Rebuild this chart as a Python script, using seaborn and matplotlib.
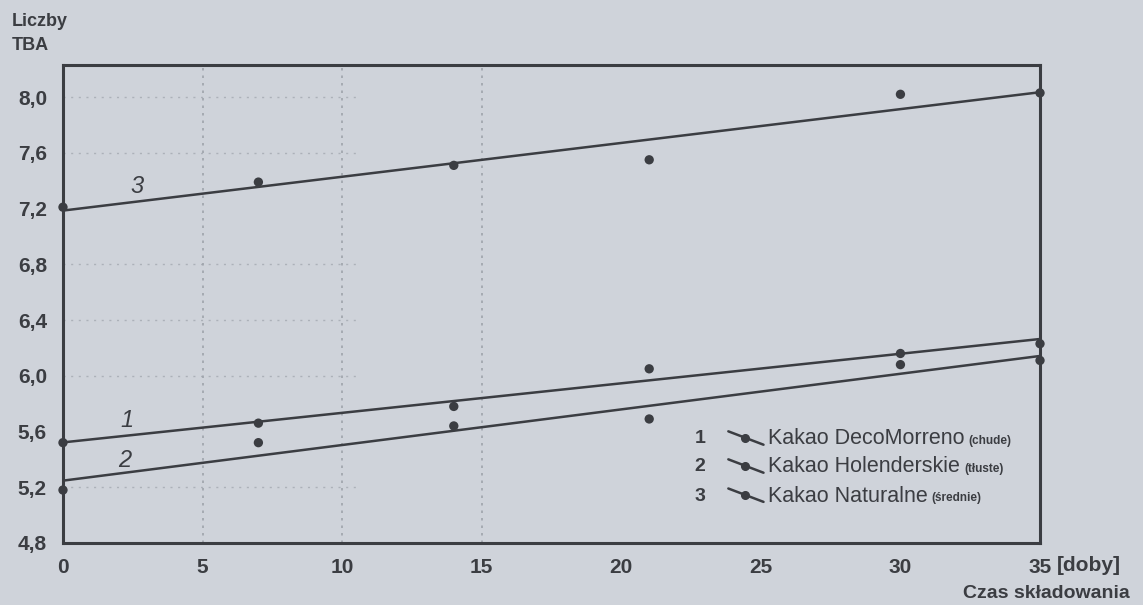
import matplotlib
matplotlib.use("Agg")
import matplotlib.pyplot as plt
import numpy as np
import pandas as pd
import seaborn as sns

# Storage time (days) and TBA values for the three cocoa powders
days = [0, 7, 14, 21, 30, 35]
tba_decomorreno = [5.52, 5.66, 5.78, 6.05, 6.16, 6.23]
tba_holenderskie = [5.18, 5.52, 5.64, 5.69, 6.08, 6.11]
tba_naturalne = [7.21, 7.39, 7.51, 7.55, 8.02, 8.03]

series_numbers = ["1", "2", "3"]
series_names = ["Kakao DecoMorreno", "Kakao Holenderskie", "Kakao Naturalne"]
series_notes = ["(chude)", "(tłuste)", "(średnie)"]

x_ticks = [0, 5, 10, 15, 20, 25, 30, 35]
y_ticks = [4.8, 5.2, 5.6, 6.0, 6.4, 6.8, 7.2, 7.6, 8.0]

df = pd.DataFrame({
    "doby": days * 3,
    "tba": tba_decomorreno + tba_holenderskie + tba_naturalne,
    "seria": [n for n in series_numbers for _ in days],
})

sns.set_theme(style="white")
plt.rcParams["font.family"] = ["Liberation Sans", "DejaVu Sans"]

PAPER = "#cfd3da"
INK = "#3b3d42"
FAINT = "#9ea3ab"

fig = plt.figure(figsize=(11.43, 6.05), dpi=100, facecolor=PAPER)
ax = fig.add_axes([0.0551, 0.1025, 0.8548, 0.790])
ax.set_facecolor(PAPER)

# faint dotted guide lines
for xv in [5, 10, 15]:
    ax.axvline(xv, color=FAINT, lw=1.2, ls=(0, (1.5, 3)), zorder=0)
for yv in [8.0, 7.6, 6.8, 6.4, 6.0, 5.2]:
    ax.axhline(yv, xmin=0.0, xmax=0.30, color=FAINT, lw=1.0, ls=(0, (1.5, 4)), zorder=0, alpha=0.7)

# fitted trend lines
for name, sub in df.groupby("seria"):
    sns.regplot(data=sub, x="doby", y="tba", ax=ax, scatter=False, ci=None,
                truncate=True, color=INK, line_kws={"lw": 1.8, "zorder": 2})

# measured points
sns.scatterplot(data=df, x="doby", y="tba", hue="seria",
                palette=[INK, INK, INK], legend=False, ax=ax,
                s=45, edgecolor="none", zorder=3, clip_on=False)

ax.set_xlim(0, 35)
ax.set_ylim(4.8, 8.23)
ax.set_xlabel("")
ax.set_ylabel("")
ax.set_xticks(x_ticks, labels=[str(v) for v in x_ticks], fontweight="bold")
ax.set_yticks(y_ticks, labels=[f"{v:.1f}".replace(".", ",") for v in y_ticks], fontweight="bold")
ax.tick_params(axis="both", direction="inout", length=5, width=1.5, color=INK,
               labelsize=15, labelcolor=INK)
ax.tick_params(axis="y", pad=9)
ax.tick_params(axis="x", pad=8)
for sp in ax.spines.values():
    sp.set_visible(True)
    sp.set_color(INK)
    sp.set_linewidth(2.2)

# handwritten curve numbers
ax.text(2.3, 5.68, "1", fontsize=17, color=INK, ha="center", va="center", fontstyle="italic")
ax.text(2.2, 5.39, "2", fontsize=17, color=INK, ha="center", va="center", fontstyle="italic")
ax.text(2.65, 7.36, "3", fontsize=17, color=INK, ha="center", va="center", fontstyle="italic")

# axis captions
fig.text(12 / 1143, 1 - 21 / 605, "Liczby", fontsize=13, fontweight="bold", color=INK, va="center", ha="left")
fig.text(12 / 1143, 1 - 45 / 605, "TBA", fontsize=13, fontweight="bold", color=INK, va="center", ha="left")
ax.annotate("[doby]", xy=(1, 0), xycoords="axes fraction", xytext=(12, -16),
            textcoords="offset points", fontsize=15, fontweight="bold", color=INK,
            ha="left", va="center")
fig.text(1130 / 1143, 1 - 593 / 605, "Czas składowania", fontsize=14, fontweight="bold",
         color=INK, ha="right", va="center")

# key
key_rows = [0.2176, 0.159, 0.098]
renderer = fig.canvas.get_renderer()
for num, name, note, yk in zip(series_numbers, series_names, series_notes, key_rows):
    ax.text(0.652, yk, num, transform=ax.transAxes, fontsize=14, fontweight="bold",
            color=INK, ha="center", va="center")
    ax.plot([0.681, 0.717], [yk + 0.016, yk - 0.012], transform=ax.transAxes,
            color=INK, lw=1.8, clip_on=False)
    ax.plot([0.6985], [yk + 0.002], transform=ax.transAxes, marker="o", ms=5.5,
            color=INK, clip_on=False)
    t = ax.text(0.7216, yk, name, transform=ax.transAxes, fontsize=15.5,
                color=INK, ha="left", va="center")
    bb = t.get_window_extent(renderer=renderer)
    x_end = ax.transAxes.inverted().transform((bb.x1 + 4, bb.y0))[0]
    ax.text(x_end, yk - 0.004, note, transform=ax.transAxes, fontsize=8.5,
            fontweight="bold", color=INK, ha="left", va="center")

fig.savefig("out.png", dpi=100, facecolor=PAPER)
